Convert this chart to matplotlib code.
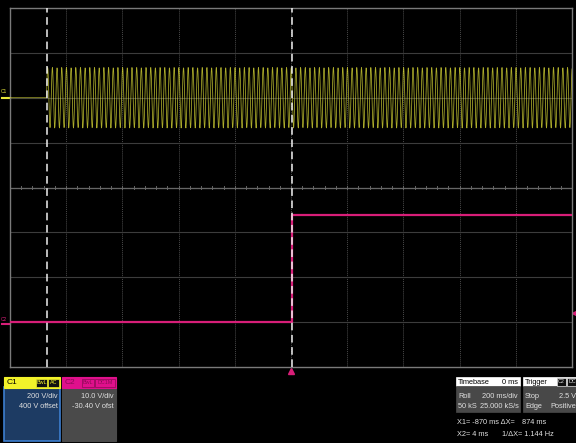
import numpy as np
import matplotlib.pyplot as plt
from matplotlib.patches import Rectangle

plt.rcParams['font.family'] = ['Liberation Sans Narrow', 'Liberation Sans', 'DejaVu Sans']

# acquisition settings (time in ms, screen spans 10 divisions)
time_per_div = 200.0
n_hdiv, n_vdiv = 10, 8

# channel 1: AC line voltage
c1_volts_per_div = 200.0
c1_offset = 400.0
c1_amplitude = 135.0
c1_freq_hz = 60.0
c1_start_ms = -870.0

# channel 2: DC step
c2_volts_per_div = 10.0
c2_offset = -30.40
c2_step_ms = 4.0
c2_levels = [0.4, 24.2]

trigger_level = 2.5
cursors_ms = [-870.0, 4.0]

YELLOW = '#e8e83a'
PINK = '#d81e78'

fig = plt.figure(figsize=(5.76, 4.43), dpi=100, facecolor='black')
ax = fig.add_axes([10 / 576, 76 / 443, 562 / 576, 359 / 443], facecolor='black')
half_t = time_per_div * n_hdiv / 2
ax.set_xlim(-half_t, half_t)
ax.set_ylim(-n_vdiv / 2, n_vdiv / 2)
ax.set_xticks([])
ax.set_yticks([])
for s in ax.spines.values():
    s.set_color('#7a7a7a')
    s.set_linewidth(1.0)

# graticule
for i in range(1, n_hdiv):
    x = -half_t + i * time_per_div
    ax.axvline(x, color='#4a4a4a', lw=0.7, ls=(0, (1, 1)), zorder=1)
for j in range(1, n_vdiv):
    ax.axhline(-n_vdiv / 2 + j, color='#3c3c3c', lw=0.8, zorder=1)
ax.axhline(0, color='#666666', lw=0.9, zorder=1)
for k in range(n_hdiv * 5 + 1):
    x = -half_t + k * time_per_div / 5
    ax.plot([x, x], [-0.04, 0.04], color='#666666', lw=0.7, zorder=1)

# channel 1 trace
dt = 1.0
t = np.arange(-half_t, half_t + dt, dt)
v1 = np.where(t < c1_start_ms, 0.0,
              c1_amplitude * np.sin(2 * np.pi * c1_freq_hz * (t - c1_start_ms) / 1000.0))
ax.plot(t, v1 / c1_volts_per_div + c1_offset / c1_volts_per_div,
        color=YELLOW, lw=0.55, alpha=0.75, zorder=3)

# channel 2 trace
t2 = [-half_t, c2_step_ms, c2_step_ms, half_t]
v2 = [c2_levels[0], c2_levels[0], c2_levels[1], c2_levels[1]]
y2 = [(v + c2_offset) / c2_volts_per_div for v in v2]
ax.plot(t2, y2, color=PINK, lw=1.6, zorder=3)

# cursors
for c in cursors_ms:
    ax.axvline(c, color='#f0f0f0', lw=1.1, ls=(0, (5, 3)), zorder=4)

# channel and trigger markers
ax.plot([-half_t - 30, -half_t], [c1_offset / c1_volts_per_div] * 2,
        color=YELLOW, lw=1.5, clip_on=False)
ax.text(-half_t - 34, c1_offset / c1_volts_per_div + 0.08, 'C1', color=YELLOW,
        fontsize=3.5, ha='left', va='bottom', clip_on=False)
ax.plot([-half_t - 30, -half_t], [c2_offset / c2_volts_per_div] * 2,
        color=PINK, lw=1.5, clip_on=False)
ax.text(-half_t - 34, c2_offset / c2_volts_per_div + 0.05, 'C2', color=PINK,
        fontsize=3.5, ha='left', va='bottom', clip_on=False)
ax.plot([half_t + 8], [(trigger_level + c2_offset) / c2_volts_per_div], marker='<',
        color=PINK, ms=3, clip_on=False)
ax.plot([0], [-n_vdiv / 2 - 0.09], marker='^', color=PINK, ms=4, clip_on=False)

# info boxes in pixel coordinates
ov = fig.add_axes([0, 0, 1, 1], facecolor='none')
ov.set_xlim(0, 576)
ov.set_ylim(443, 0)
ov.axis('off')

fs = 5.3
TXT = '#e0e0e0'


def badge(x, y, w, label, fc, tc):
    ov.add_patch(Rectangle((x, y), w, 8, facecolor=fc, edgecolor=tc, lw=0.5))
    ov.text(x + w / 2, y + 4.3, label, color=tc, fontsize=3.9, ha='center', va='center')


# C1
ov.add_patch(Rectangle((4, 387), 56, 54, facecolor='#1d3b63', edgecolor='#3d7fd0', lw=1.2))
ov.add_patch(Rectangle((4, 377), 56, 11, facecolor='#f2f22a', edgecolor='#f2f22a', lw=0.8))
ov.text(7, 383, 'C1', color='black', fontsize=6, va='center')
badge(36, 378.5, 11, 'BwL', '#111111', '#f2f22a')
badge(48, 378.5, 11, 'AC', '#111111', '#f2f22a')
ov.text(58, 396, '%d V/div' % c1_volts_per_div, color=TXT, fontsize=fs, ha='right', va='center')
ov.text(58, 406.5, '%d V offset' % c1_offset, color=TXT, fontsize=fs, ha='right', va='center')

# C2
ov.add_patch(Rectangle((62, 387), 54, 54, facecolor='#4a4a4a', edgecolor='#4a4a4a', lw=0.8))
ov.add_patch(Rectangle((62, 377), 54, 11, facecolor='#e0108c', edgecolor='#e0108c', lw=0.8))
ov.text(65, 383, 'C2', color='#8a0a55', fontsize=6, va='center')
badge(82, 378.5, 12, 'BwL', '#e0108c', '#8a0a55')
badge(95, 378.5, 20, 'DC1M', '#e0108c', '#8a0a55')
ov.text(114, 396, '%.1f V/div' % c2_volts_per_div, color=TXT, fontsize=fs, ha='right', va='center')
ov.text(114, 406.5, '%.2f V ofst' % c2_offset, color=TXT, fontsize=fs, ha='right', va='center')

# timebase
ov.add_patch(Rectangle((456, 377), 64, 9, facecolor='white', edgecolor='white', lw=0.5))
ov.add_patch(Rectangle((456, 386), 64, 26, facecolor='#484848', edgecolor='#484848', lw=0.5))
ov.text(458, 382, 'Timebase', color='black', fontsize=fs, va='center')
ov.text(518, 382, '0 ms', color='black', fontsize=fs, ha='right', va='center')
ov.text(458, 396.5, 'Roll', color=TXT, fontsize=fs, va='center')
ov.text(518, 396.5, '%d ms/div' % time_per_div, color=TXT, fontsize=fs, ha='right', va='center')
ov.text(458, 406, '50 kS', color=TXT, fontsize=fs, va='center')
ov.text(519, 406, '25.000 kS/s', color=TXT, fontsize=fs, ha='right', va='center')

# trigger
ov.add_patch(Rectangle((523, 377), 55, 9, facecolor='white', edgecolor='white', lw=0.5))
ov.add_patch(Rectangle((523, 386), 55, 26, facecolor='#484848', edgecolor='#484848', lw=0.5))
ov.text(525, 382, 'Trigger', color='black', fontsize=fs, va='center')
badge(557, 377.5, 9, 'C2', '#111111', '#dddddd')
badge(567, 377.5, 10, 'DC', '#111111', '#dddddd')
ov.text(525, 396.5, 'Stop', color=TXT, fontsize=fs, va='center')
ov.text(576, 396.5, '%.1f V' % trigger_level, color=TXT, fontsize=fs, ha='right', va='center')
ov.text(525, 406, 'Edge', color=TXT, fontsize=fs, va='center')
ov.text(576, 406, 'Positive', color=TXT, fontsize=fs, ha='right', va='center')

# cursor readout
dx = cursors_ms[1] - cursors_ms[0]
ov.text(457, 422, 'X1= %d ms \u0394X=' % cursors_ms[0], color=TXT, fontsize=fs, va='center')
ov.text(522, 422, '%d ms' % dx, color=TXT, fontsize=fs, va='center')
ov.text(457, 434, 'X2= %d ms' % cursors_ms[1], color=TXT, fontsize=fs, va='center')
ov.text(502, 434, '1/\u0394X= %.3f Hz' % (1000.0 / dx), color=TXT, fontsize=fs, va='center')

fig.savefig('out.png', dpi=100, facecolor='black')
